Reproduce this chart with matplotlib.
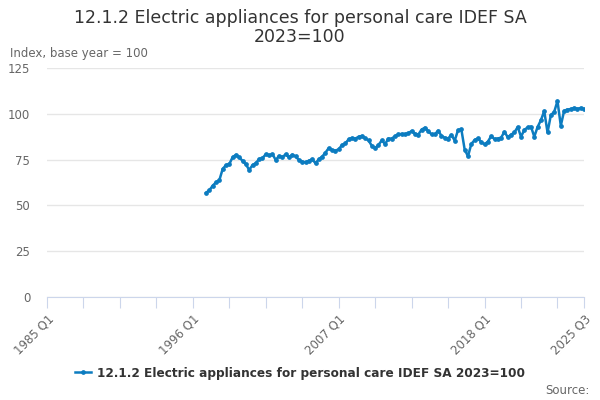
import numpy as np
import matplotlib
matplotlib.use("Agg")
import matplotlib.pyplot as plt

title = "12.1.2 Electric appliances for personal care IDEF SA\n2023=100"
series_name = "12.1.2 Electric appliances for personal care IDEF SA 2023=100"
y_label = "Index, base year = 100"

# quarterly values, 1997 Q1 .. 2025 Q3
start_year = 1997
values = [
    56.9, 58.3, 60.8, 62.6, 63.8, 69.9, 72.0, 72.6, 76.3, 77.6,
    76.2, 74.3, 72.4, 69.4, 72.0, 73.1, 75.3, 75.8, 77.9, 77.3,
    78.0, 74.8, 77.0, 76.3, 77.9, 76.3, 77.7, 76.7, 74.8, 73.9,
    73.5, 74.4, 75.2, 73.0, 75.2, 76.6, 78.8, 81.3, 80.2, 79.9,
    80.6, 83.0, 83.8, 86.1, 86.8, 86.4, 87.5, 87.9, 86.6, 85.5,
    82.5, 81.2, 83.0, 85.5, 83.5, 86.5, 86.5, 87.8, 88.8, 89.0,
    88.9, 89.4, 90.6, 89.2, 88.6, 91.4, 92.4, 90.5, 88.8, 88.8,
    90.8, 88.0, 86.9, 86.5, 88.5, 85.4, 91.1, 91.5, 80.5, 76.8,
    83.5, 85.7, 86.6, 84.6, 83.3, 84.8, 87.8, 86.2, 86.5, 87.0,
    90.2, 87.2, 88.6, 89.8, 92.8, 87.5, 91.2, 92.6, 93.0, 87.5,
    92.8, 96.5, 101.5, 89.8, 99.3, 101.0, 107.0, 93.5, 101.6, 102.3,
    102.6, 103.2, 102.7, 103.2, 102.6,
]

x_start, x_end = 1985.0, 2025.5
tick_labels = {1985.0: "1985 Q1", 1996.0: "1996 Q1", 2007.0: "2007 Q1",
               2018.0: "2018 Q1", 2025.5: "2025 Q3"}

x = start_year + np.arange(len(values)) * 0.25

line_col = "#0c7cc0"
axis_col = "#ccd6eb"
text_col = "#666666"

fig = plt.figure(figsize=(6, 4), dpi=100)
ax = fig.add_axes([47 / 600, 103 / 400, 537 / 600, 229 / 400])

ax.plot(x, values, color=line_col, lw=1.8, marker="o", ms=2.4, zorder=3)

ax.set_xlim(x_start, x_end)
ax.set_ylim(0, 125)
ax.set_yticks(np.arange(0, 126, 25))
ax.grid(axis="y", color="#e6e6e6", lw=1)
ax.set_axisbelow(True)

for s in ["left", "right", "top"]:
    ax.spines[s].set_visible(False)
ax.spines["bottom"].set_color(axis_col)

ticks = list(np.arange(x_start, 2024, 2.75)) + [x_end]
ax.set_xticks(ticks)
ax.set_xticklabels([tick_labels.get(t, "") for t in ticks], rotation=45,
                   ha="right", rotation_mode="anchor", color=text_col, fontsize=8.5)
ax.tick_params(axis="x", length=8, color=axis_col, pad=3)
ax.tick_params(axis="y", length=0, labelcolor=text_col, labelsize=8.5, pad=12)

fig.text(0.5, 0.978, title, ha="center", va="top", fontsize=12.5, color="#333333",
         linespacing=1.1)
fig.text(10 / 600, 1 - 53 / 400, y_label, ha="left", va="center", fontsize=8.5,
         color=text_col)

handle, = ax.plot([], [], color=line_col, lw=1.8, marker="o", ms=2.4)
fig.legend([handle], [series_name], loc="center", bbox_to_anchor=(0.5, 1 - 373 / 400),
           frameon=False, prop={"weight": "bold", "size": 8.7}, labelcolor="#333333",
           handlelength=1.4, handletextpad=0.5)
fig.text(590 / 600, 1 - 391 / 400, "Source:", ha="right", va="center", fontsize=8.5,
         color=text_col)

fig.savefig("out.png", dpi=100)
